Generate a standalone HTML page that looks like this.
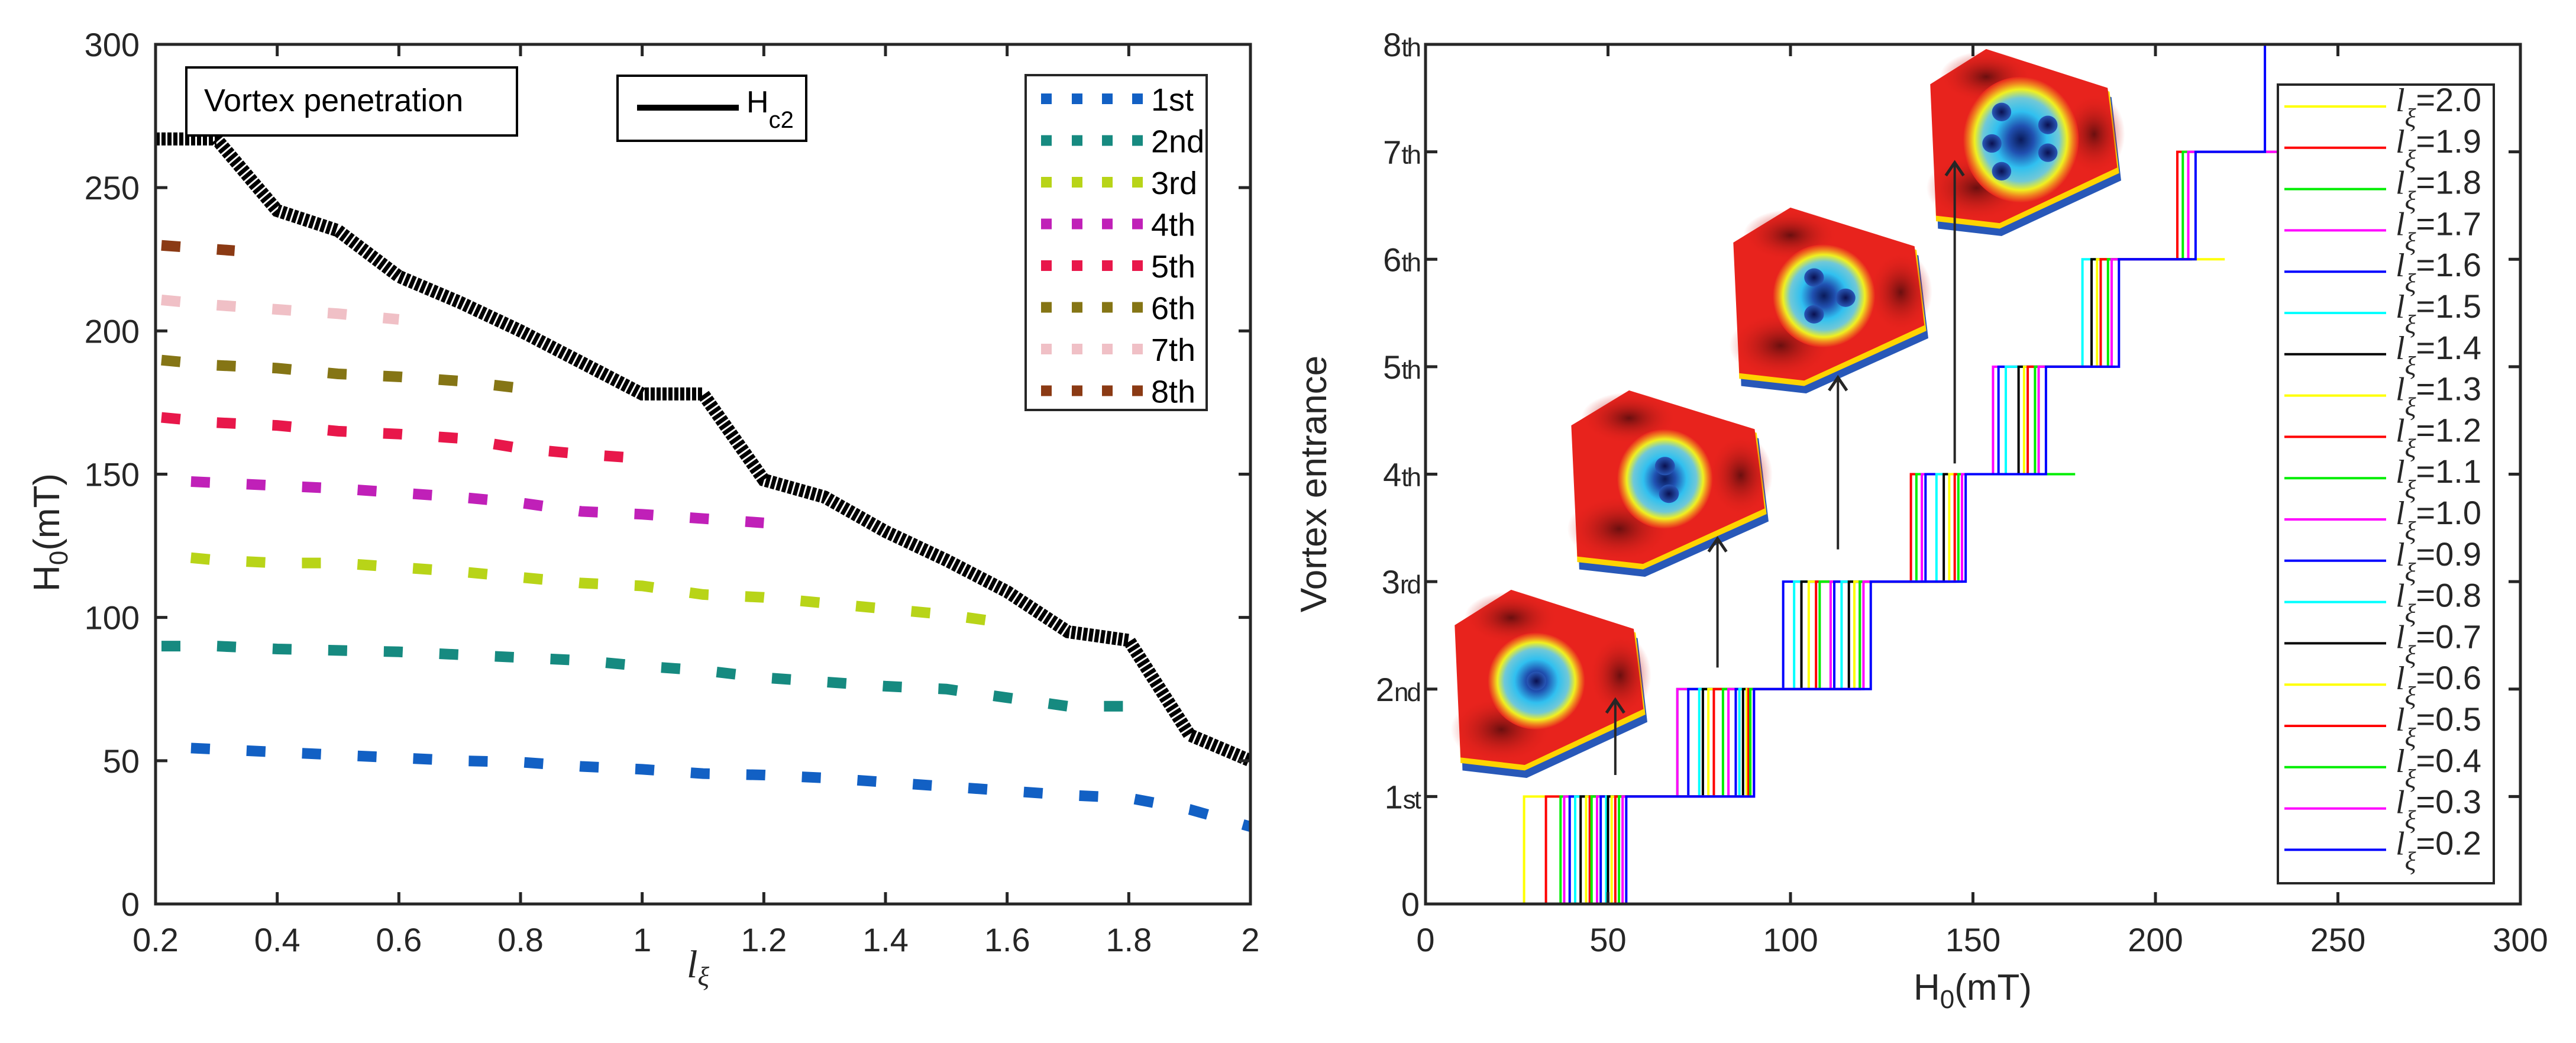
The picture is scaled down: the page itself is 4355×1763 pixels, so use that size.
<!DOCTYPE html>
<html><head><meta charset="utf-8"><style>
html,body{margin:0;padding:0;background:#fff;}
svg{display:block;}
text{font-family:"Liberation Sans",sans-serif;fill:#262626;}
</style></head><body>
<svg id="fig" width="4355" height="1763" viewBox="0 0 4355 1763" xmlns="http://www.w3.org/2000/svg">
<defs>
<clipPath id="clipL"><rect x="263" y="75" width="1851" height="1453"/></clipPath>
<clipPath id="clipR"><rect x="2410" y="75" width="1851" height="1453"/></clipPath>
<radialGradient id="core" cx="0.5" cy="0.5" r="0.5">
<stop offset="0" stop-color="#0a1a5a"/><stop offset="0.22" stop-color="#2050b0"/><stop offset="0.45" stop-color="#30c0f0"/><stop offset="0.66" stop-color="#70c8d8"/><stop offset="0.8" stop-color="#f0f020"/><stop offset="0.9" stop-color="#f08020"/><stop offset="1" stop-color="#e8231d"/></radialGradient>
<radialGradient id="dark" cx="0.5" cy="0.5" r="0.5"><stop offset="0" stop-color="#6a0f0f"/><stop offset="1" stop-color="#e8231d" stop-opacity="0"/></radialGradient>
<radialGradient id="dot" cx="0.5" cy="0.5" r="0.5"><stop offset="0" stop-color="#0a1050"/><stop offset="1" stop-color="#2858b8"/></radialGradient>
</defs>
<g id="left"></g>
<g id="right"></g>
</svg>
<script>
// ---------- Left chart data ----------
const lxi = [0.2,0.3,0.4,0.5,0.6,0.7,0.8,0.9,1.0,1.1,1.2,1.3,1.4,1.5,1.6,1.7,1.8,1.9,2.0];
const hc2 = [267,267,242,235,219,210,200,189,178,178,148,142,130,120,109,95,92,59,50];
const pen1 = [55,54,53,52,51,50,49.5,48,47,45.5,45,44,42.5,41,39.5,38,37,33,27];
const pen2 = [90,90,89,88.5,88,87,86,85,83,81.5,79,77.5,76,75,72,69,69];
const pen3 = [122,120,119,119,117.5,116,114,112,111,108,107,105,103,101,98];
const pen4 = [148,147,146,145,143.5,142,140,137,136,134.5,133];
const pen5 = [170,168,167,165,164,162.5,159,157,155.5];
const pen6 = [190,188,187,185,184,182.5,180];
const pen7 = [211,209,207.5,206,204];
const pen8 = [230,228];
const penNames = ["1st","2nd","3rd","4th","5th","6th","7th","8th"];
const penColors = ["#1260c4","#168a80","#b8d418","#c020b8","#e8174a","#857515","#f0c0c6","#8b3a14"];
const leftXTicks = [0.2,0.4,0.6,0.8,1,1.2,1.4,1.6,1.8,2];
const leftYTicks = [0,50,100,150,200,250,300];
// ---------- Right chart data ----------
const legendL = ["2.0","1.9","1.8","1.7","1.6","1.5","1.4","1.3","1.2","1.1","1.0","0.9","0.8","0.7","0.6","0.5","0.4","0.3","0.2"];
const stairColors = ["#ffff00","#ff0000","#00ee00","#ff00ff","#0000ff","#00ffff","#000000"];
const maxLevel = {"2.0":1,"1.9":1,"1.8":2,"1.7":2,"1.6":3,"1.5":3,"1.4":3,"1.3":3,"1.2":4,"1.1":4,"1.0":5,"0.9":5,"0.8":6,"0.7":6,"0.6":6,"0.5":7,"0.4":7,"0.3":7,"0.2":8};
const rightXTicks = [0,50,100,150,200,250,300];
const rightYTicks = ["0","1","2","3","4","5","6","7","8"];
const rightYSuffix = ["","st","nd","rd","th","th","th","th","th"];

const NS="http://www.w3.org/2000/svg";
function mk(tag,attrs,parent){const e=document.createElementNS(NS,tag);for(const k in attrs)e.setAttribute(k,attrs[k]);parent.appendChild(e);return e;}

// ---------- Left chart ----------
const L=document.getElementById('left');
const lx0=263,lx1=2114,ly0=1528,ly1=75;
const LX=v=>lx0+(v-0.2)/1.8*(lx1-lx0);
const LY=v=>ly0-v/300*(ly0-ly1);
const lplot=mk('g',{'clip-path':'url(#clipL)'},L);


const pens=[pen1,pen2,pen3,pen4,pen5,pen6,pen7,pen8];
pens.forEach((arr,i)=>{
  let d=arr.map((v,j)=>(j?'L':'M')+LX(i==7&&j==1?0.33:lxi[j])+','+LY(v)).join(' ');
  const p=mk('path',{d:d,fill:'none',stroke:penColors[i],'stroke-width':18,'stroke-dasharray':'32 62','stroke-dashoffset':i==0||i==2||i==3?-60:-10},lplot);
  
  
});
{
  const d=hc2.map((v,j)=>(j?'L':'M')+LX(lxi[j])+','+LY(v)).join(' ');
  const p=mk('path',{d:d,fill:'none',stroke:'#000','stroke-width':22,'stroke-dasharray':'7 3'},lplot);
  
  
}
const lbox=mk('rect',{x:lx0,y:ly1,width:lx1-lx0,height:ly0-ly1,fill:'none',stroke:'#262626','stroke-width':5},L);


leftXTicks.forEach(t=>{
  const x=LX(t);
  mk('line',{x1:x,y1:ly0,x2:x,y2:ly0-20,stroke:'#262626','stroke-width':5},L);
  mk('line',{x1:x,y1:ly1,x2:x,y2:ly1+20,stroke:'#262626','stroke-width':5},L);
  const tx=mk('text',{x:x,y:1608,'font-size':56,'text-anchor':'middle'},L);
  tx.textContent=String(t);
  
  
});
leftYTicks.forEach(t=>{
  const y=LY(t);
  mk('line',{x1:lx0,y1:y,x2:lx0+20,y2:y,stroke:'#262626','stroke-width':5},L);
  mk('line',{x1:lx1,y1:y,x2:lx1-20,y2:y,stroke:'#262626','stroke-width':5},L);
  const tx=mk('text',{x:236,y:y+20,'font-size':56,'text-anchor':'end'},L);
  tx.textContent=String(t);
  
  
});
{
  const t=mk('text',{transform:'translate(100,900) rotate(-90)','font-size':62,'text-anchor':'middle'},L);
  t.innerHTML='H<tspan font-size="44" dy="14">0</tspan><tspan dy="-14">(mT)</tspan>';
  
  
  const x=mk('text',{x:1180,y:1652,'font-size':66,'font-style':'italic','text-anchor':'middle',style:'font-family:"Liberation Serif",serif'},L);
  x.innerHTML='l<tspan font-size="46" dy="14">ξ</tspan>';
  
  
}
{
  const g=mk('g',{},L);
  
  
  mk('rect',{x:315,y:114,width:559,height:115,fill:'#fff',stroke:'#000','stroke-width':4},g);
  const t=mk('text',{x:345,y:188,'font-size':54,style:'fill:#000'},g);t.textContent='Vortex penetration';
  const h=mk('g',{},L);
  
  
  mk('rect',{x:1044,y:128,width:319,height:110,fill:'#fff',stroke:'#000','stroke-width':4},h);
  mk('line',{x1:1077,y1:182,x2:1249,y2:182,stroke:'#000','stroke-width':10},h);
  const ht=mk('text',{x:1262,y:190,'font-size':52,style:'fill:#000'},h);
  ht.innerHTML='H<tspan font-size="40" dy="26">c2</tspan>';
  const lg=mk('g',{},L);
  
  
  mk('rect',{x:1734,y:127,width:306,height:566,fill:'#fff',stroke:'#262626','stroke-width':4},lg);
  penNames.forEach((n,i)=>{
    const y=167+i*70.5;
    [1760,1812,1863,1914].forEach(x=>mk('rect',{x:x,y:y-9,width:18,height:18,fill:penColors[i]},lg));
    const t=mk('text',{x:1946,y:y+20,'font-size':54,style:'fill:#000'},lg);t.textContent=n;
    
    
  });
}

// ---------- Right chart ----------
const R=document.getElementById('right');
const rx0=2410,rx1=4261,ry0=1528,ry1=75;
const RX=v=>rx0+v/300*(rx1-rx0);
const RY=v=>ry0-v/8*(ry0-ry1);
const insets=[{x:2456,y:1000,w:329,h:315,dots:[[0.43,0.48]],core:[0.43,0.48,0.25,0.26]},
 {x:2653,y:663,w:337,h:312,dots:[[0.48,0.4],[0.5,0.55]],core:[0.48,0.47,0.24,0.27]},
 {x:2927,y:354,w:333,h:311,dots:[[0.42,0.37],[0.58,0.48],[0.42,0.57]],core:[0.47,0.47,0.26,0.28]},
 {x:3260,y:86,w:326,h:313,dots:[[0.38,0.33],[0.62,0.4],[0.33,0.5],[0.62,0.55],[0.38,0.65]],core:[0.48,0.48,0.3,0.34]}];
const arrows=[[52,1.2,1.9],[80,2.2,3.4],[113,3.3,4.9],[145,4.1,6.9]];
insets.forEach((s,i)=>{
  const g=mk('g',{transform:`translate(${s.x},${s.y}) scale(${s.w/100},${s.h/100})`},R);
  
  
  mk('path',{d:'M3,22 L30,2 L95,25 L100,70 L38,100 L5,96 Z',fill:'#2858b8'},g);
  mk('path',{d:'M2,20 L30,0 L94,22 L99,66 L37,96 L4,92 Z',fill:'#ffd400'},g);
  mk('path',{d:'M1,18 L30,-1 L93,20 L98,63 L37,93 L4,89 Z',fill:'#e8231d'},g);
  mk('ellipse',{cx:30,cy:14,rx:24,ry:14,fill:'url(#dark)'},g);
  mk('ellipse',{cx:25,cy:74,rx:26,ry:18,fill:'url(#dark)'},g);
  mk('ellipse',{cx:86,cy:45,rx:16,ry:22,fill:'url(#dark)'},g);
  const c=s.core;
  mk('ellipse',{cx:c[0]*100,cy:c[1]*100,rx:c[2]*100,ry:c[3]*100,fill:'url(#core)'},g);
  s.dots.forEach(d=>mk('ellipse',{cx:d[0]*100,cy:d[1]*100,rx:5,ry:5,fill:'url(#dot)'},g));
});
arrows.forEach((a,i)=>{
  const x=RX(a[0]),y1=RY(a[1]),y2=RY(a[2]);
  const g=mk('g',{},R);
  
  
  mk('line',{x1:x,y1:y1,x2:x,y2:y2,stroke:'#262626','stroke-width':4},g);
  mk('path',{d:`M${x-15},${y2+22} L${x},${y2} L${x+15},${y2+22}`,fill:'none',stroke:'#262626','stroke-width':5},g);
});
const rplot=mk('g',{'clip-path':'url(#clipR)'},R);


legendL.forEach((ls,i)=>{
  const li=lxi.indexOf(parseFloat(ls));
  const n=maxLevel[ls];
  let d='M'+RX(0)+','+RY(0);
  for(let k=0;k<n;k++){
    const h=pens[k][li];
    d+=' L'+RX(h)+','+RY(k)+' L'+RX(h)+','+RY(k+1);
  }
  d+=' L'+RX(hc2[li])+','+RY(n);
  const p=mk('path',{d:d,fill:'none',stroke:stairColors[i%7],'stroke-width':4},rplot);
  
  
});
const rbox=mk('rect',{x:rx0,y:ry1,width:rx1-rx0,height:ry0-ry1,fill:'none',stroke:'#262626','stroke-width':5},R);


rightXTicks.forEach(t=>{
  const x=RX(t);
  mk('line',{x1:x,y1:ry0,x2:x,y2:ry0-20,stroke:'#262626','stroke-width':5},R);
  mk('line',{x1:x,y1:ry1,x2:x,y2:ry1+20,stroke:'#262626','stroke-width':5},R);
  const tx=mk('text',{x:x,y:1608,'font-size':56,'text-anchor':'middle'},R);
  tx.textContent=String(t);
  
  
});
rightYTicks.forEach((t,i)=>{
  const y=RY(i);
  mk('line',{x1:rx0,y1:y,x2:rx0+20,y2:y,stroke:'#262626','stroke-width':5},R);
  mk('line',{x1:rx1,y1:y,x2:rx1-20,y2:y,stroke:'#262626','stroke-width':5},R);
  const tx=mk('text',{x:2400,y:y+20,'font-size':56,'text-anchor':'end'},R);
  tx.innerHTML=t+(rightYSuffix[i]?'<tspan font-size="44" style="letter-spacing:-3px">'+rightYSuffix[i]+'</tspan>':'');
  
  
});
{
  const t=mk('text',{transform:'translate(2242,818) rotate(-90)','font-size':62,'text-anchor':'middle'},R);
  t.textContent='Vortex entrance';
  
  
  const x=mk('text',{x:3335,y:1690,'font-size':62,'text-anchor':'middle'},R);
  x.innerHTML='H<tspan font-size="44" dy="14">0</tspan><tspan dy="-14">(mT)</tspan>';
  
  
}
{
  const lg=mk('g',{},R);
  
  
  mk('rect',{x:3851,y:143,width:365,height:1350,fill:'#fff',stroke:'#262626','stroke-width':4},lg);
  legendL.forEach((ls,i)=>{
    const y=180+i*69.8;
    mk('line',{x1:3862,y1:y,x2:4034,y2:y,stroke:stairColors[i%7],'stroke-width':4},lg);
    const t=mk('text',{x:4050,y:y+8,'font-size':56},lg);
    t.innerHTML='<tspan style="font-family:\'Liberation Serif\',serif;font-style:italic">l</tspan><tspan font-size="44" dy="26" style="font-family:\'Liberation Serif\',serif;font-style:italic">ξ</tspan><tspan dy="-26">='+ls+'</tspan>';
    
    
  });
}
</script>
</body></html>
